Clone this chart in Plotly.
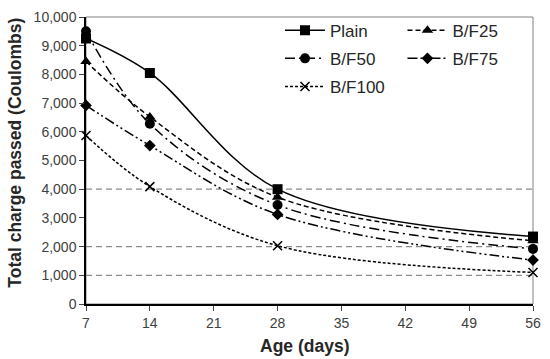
import plotly.graph_objects as go

ages = [7, 14, 28, 56]
series_names = ["Plain", "B/F25", "B/F50", "B/F75", "B/F100"]
plain = [9250, 8050, 4000, 2350]
bf25 = [8450, 6520, 3720, 2200]
bf50 = [9500, 6280, 3450, 1920]
bf75 = [6920, 5520, 3120, 1530]
bf100 = [5870, 4090, 2030, 1100]
ref_lines = [1000, 2000, 4000]
x_ticks = [7, 14, 21, 28, 35, 42, 49, 56]
x_title = "Age (days)"
y_title = "Total charge passed (Coulombs)"

values = [plain, bf25, bf50, bf75, bf100]
symbols = ["square", "triangle-up", "circle", "diamond", "x-thin"]
sizes = [10, 10, 10, 9, 9]
dashes = ["solid", "5px,3px", "10px,4px,2px,4px", "10px,3px,2px,3px,2px,3px", "3px,2px"]
legends = ["legend", "legend2", "legend", "legend2", "legend"]

fig = go.Figure()
for i, (name, vals) in enumerate(zip(series_names, values)):
    marker = dict(symbol=symbols[i], size=sizes[i], color="black")
    if symbols[i] == "x-thin":
        marker["line"] = dict(color="black", width=1.5)
    fig.add_trace(go.Scatter(
        x=ages, y=vals, name=name, mode="lines+markers",
        line=dict(color="black", width=1.5, dash=dashes[i], shape="spline", smoothing=1),
        marker=marker, cliponaxis=False, legend=legends[i], legendgroup=name,
    ))

shapes = [dict(type="line", xref="paper", yref="y", x0=0, x1=1, y0=v, y1=v,
               line=dict(color="#8c8c8c", width=1.2, dash="6px,4px"), layer="below")
          for v in ref_lines]
shapes.append(dict(type="rect", xref="paper", yref="paper", x0=0, x1=1, y0=0, y1=1,
                   line=dict(color="#808080", width=1), layer="below"))

font_family = "Liberation Sans, Arial, sans-serif"
leg_font = dict(size=17, color="#262626", family=font_family)
title_font = dict(size=17.5, color="#262626", family=font_family)
fig.update_layout(
    width=550, height=359,
    margin=dict(l=86, r=10, t=9, b=55),
    paper_bgcolor="white", plot_bgcolor="white",
    font=dict(family=font_family, color="#404040", size=14),
    shapes=shapes,
    annotations=[
        dict(text="<b>" + y_title + "</b>", xref="paper", yref="paper", x=-0.159, y=0.527,
             xanchor="center", yanchor="middle", textangle=-90, showarrow=False, font=title_font),
        dict(text="<b>" + x_title + "</b>", xref="paper", yref="paper", x=0.488, y=-0.146,
             xanchor="center", yanchor="middle", showarrow=False, font=title_font),
    ],
    legend=dict(x=0.434, y=1.015, xanchor="left", yanchor="top", bgcolor="rgba(0,0,0,0)",
                font=leg_font, tracegroupgap=3, itemwidth=40),
    legend2=dict(x=0.708, y=1.015, xanchor="left", yanchor="top", bgcolor="rgba(0,0,0,0)",
                 font=leg_font, tracegroupgap=3, itemwidth=40),
    xaxis=dict(range=[7, 56], tickvals=x_ticks, ticks="outside", ticklen=5,
               showline=True, linecolor="black", linewidth=1.5, showgrid=False, zeroline=False,
               ticklabeloverflow="allow", tickfont=dict(size=14, color="#404040")),
    yaxis=dict(range=[0, 10000], dtick=1000, tickformat=",", ticks="outside", ticklen=5,
               showline=True, linecolor="black", linewidth=1.5, showgrid=False, zeroline=False,
               ticklabeloverflow="allow", tickfont=dict(size=14, color="#404040")),
)

fig.write_html("out.html", config={"displayModeBar": False},
               post_script="document.body.style.margin='0';")
